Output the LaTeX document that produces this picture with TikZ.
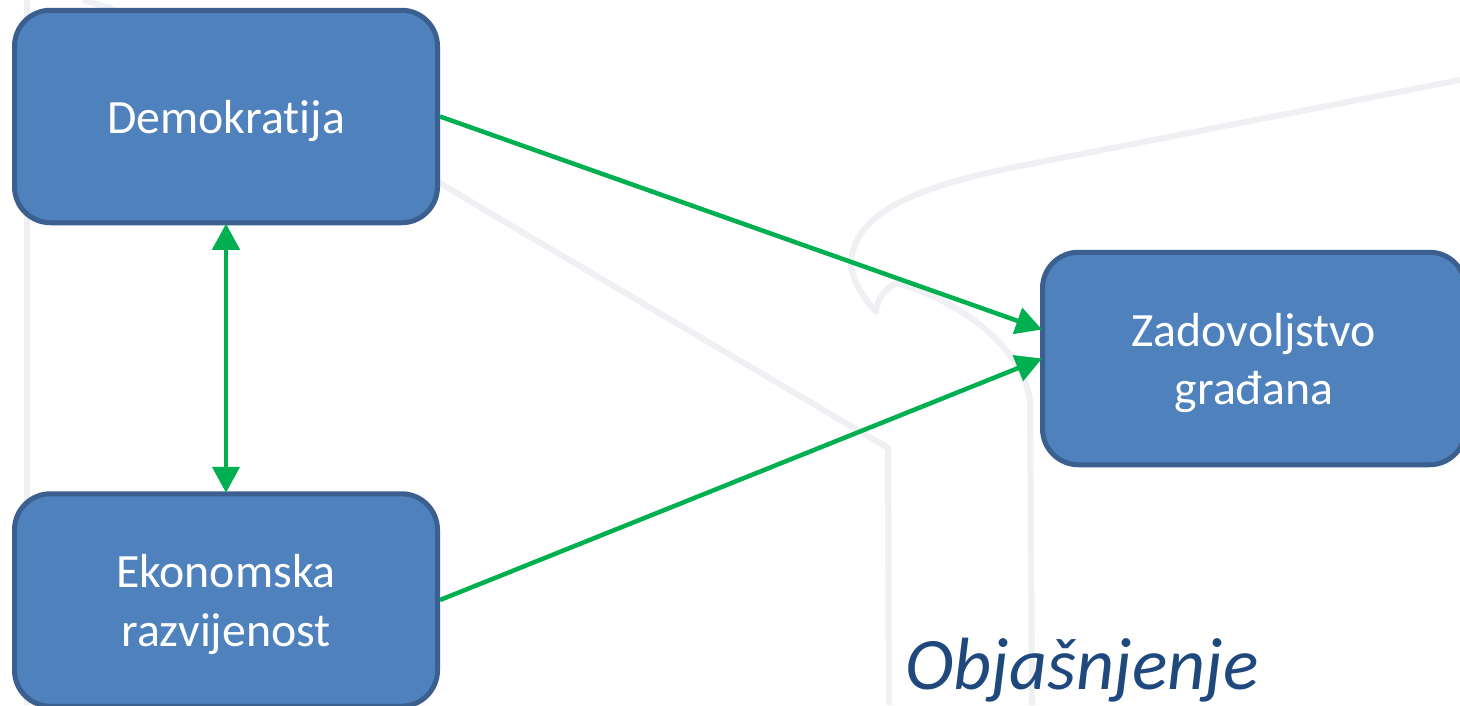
\documentclass[tikz,border=0pt]{standalone}
\usepackage{fontspec}
\setmainfont[Ligatures=NoCommon]{Carlito}
\usetikzlibrary{arrows.meta,calc}
\definecolor{boxfill}{HTML}{4F81BD}
\definecolor{boxline}{HTML}{3B5F8F}
\definecolor{arrowgreen}{HTML}{00B050}
\definecolor{wmark}{HTML}{EFF0F3}
\definecolor{titleblue}{HTML}{1F497D}
\newcommand{\lowertext}[1]{\raisebox{-4.5pt}[\height][\depth]{#1}}
\tikzset{
  box/.style={draw=boxline,fill=boxfill,line width=5pt,rounded corners=36pt,
    minimum width=423pt,minimum height=212.5pt,inner sep=0pt,align=center,
    text=white,font=\fontsize{47.8}{58.5}\selectfont},
  link/.style={draw=arrowgreen,line width=4.5pt,-{Triangle[length=26pt,width=27pt]}},
  linkboth/.style={draw=arrowgreen,line width=4.5pt,shorten <=-1.5pt,shorten >=-1.5pt,{Triangle[length=26pt,width=27pt]}-{Triangle[length=26pt,width=27pt]}},
  wline/.style={draw=wmark,line width=6pt,line join=round}
}
\begin{document}
\begin{tikzpicture}[x=1pt,y=-1pt]
\useasboundingbox (0,0) rectangle (1460,705);
\fill[white] (0,0) rectangle (1460,705);
% faint background watermark
\draw[wline] (27,0) -- (27,705);
\draw[wline] (83,0) -- (110,8) -- (440,183) -- (500,219) -- (888,448) -- (889,705);
\draw[wline] (1460,80) -- (1010,168) .. controls (940,183) and (855,205) .. (851,262)
  .. controls (851,280) and (865,300) .. (876,312)
  .. controls (877,300) and (885,288) .. (897,283)
  .. controls (950,298) and (1020,340) .. (1030,400) -- (1032,705);
% boxes
\node[box] (dem) at (226,116.5) {\lowertext{Demokratija}};
\node[box] (eko) at (226,600) {\lowertext{Ekonomska}\\\lowertext{razvijenost}};
\node[box] (zad) at (1254,358.5) {\lowertext{Zadovoljstvo}\\\lowertext{građana}};
\coordinate (zadtop) at ($(zad.west)+(2,-29)$);
\coordinate (zadlow) at ($(zad.west)+(2,0)$);
% connectors
\draw[link] (dem.east) -- (zadtop);
\draw[link] (eko.east) -- (zadlow);
\draw[linkboth] (dem.south) -- (eko.north);
% caption
\node[anchor=base,inner sep=0pt,text=titleblue,font=\fontsize{74}{80}\selectfont\itshape] (cap) at (1082,689) {Objašnjenje};
\end{tikzpicture}
\end{document}
